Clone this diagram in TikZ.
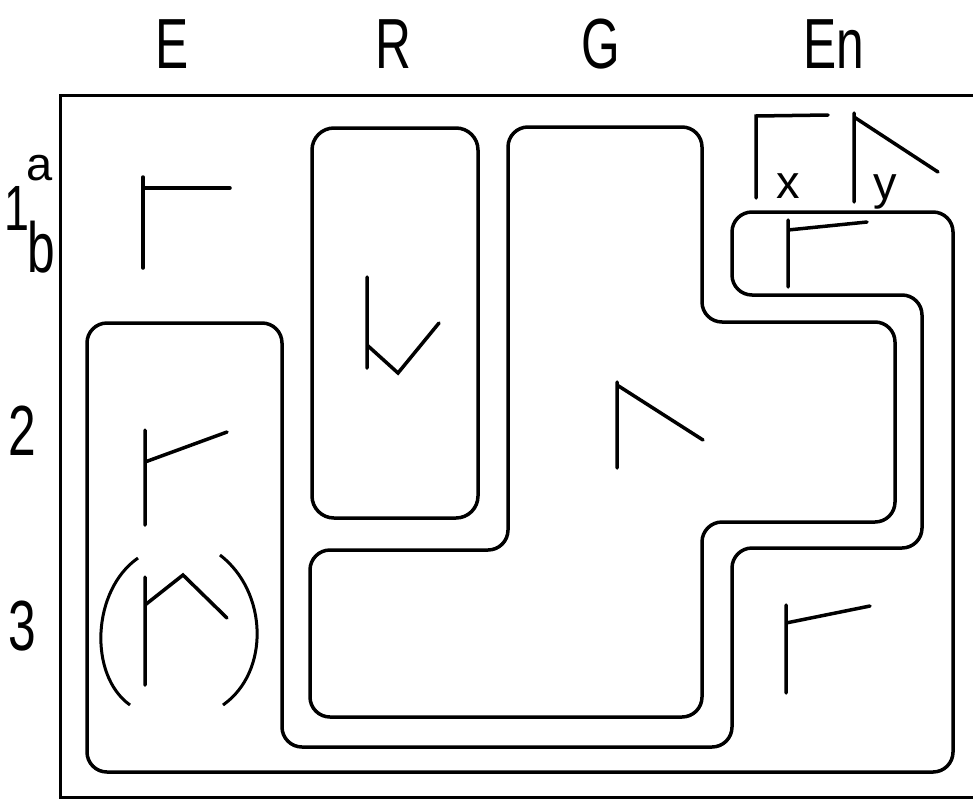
\documentclass[tikz,border=0pt]{standalone}
\usepackage{fontspec}
\setmainfont{Liberation Sans}
\newfontfamily\lettering[FakeStretch=0.7]{Liberation Sans}
\usepackage{tikz}

\begin{document}
\begin{tikzpicture}[x=1pt,y=-1pt,
  frame/.style={line width=3pt},
  zone/.style={line width=3.5pt, rounded corners=20pt},
  sign/.style={line width=3.5pt, line cap=round},
  head/.style={anchor=base, inner sep=0pt,
    font=\lettering\fontsize{71pt}{71pt}\selectfont},
  sub/.style={anchor=base, inner sep=0pt,
    font=\fontsize{47pt}{47pt}\selectfont}]

  \def\xmin{60}
  \def\xmax{980}
  \def\ymin{95}
  \def\ymax{797}

  \useasboundingbox (0,0) rectangle (973,798);

  % frame
  \draw[frame] (\xmax,\ymin) -- (\xmin,\ymin) -- (\xmin,\ymax) -- (\xmax,\ymax);

  % column heads
  \foreach \t/\x/\n in {E/172/E, R/393/R, G/601/G, En/834/En}
  \node[head] (col\n) at (\x,68) {\t};

  % row heads
  \node[head, font=\lettering\fontsize{64pt}{64pt}\selectfont] (row1) at (17,230) {1};
  \node[sub] (row1a) at (40,180) {a};
  \node[head] (row1b) at (41,272) {b};
  \node[head] (row2) at (22,455) {2};
  \node[head] (row3) at (22,650) {3};

  % outer zone
  \draw[zone] (87,323) -- (282,323) -- (282,747) -- (732,747) -- (732,548)
    -- (922,548) -- (922,295) -- (732,295) -- (732,212) -- (953,212)
    -- (953,772) -- (87,772) -- cycle;

  % G zone
  \draw[zone] (508,127) -- (702,127) -- (702,322) -- (895,322) -- (895,522)
    -- (702,522) -- (702,717) -- (310,717) -- (310,550) -- (508,550) -- cycle;

  % R zone
  \draw[zone, rounded corners=22pt] (312,128) rectangle (478,518);

  % E signs
  \draw[sign] (143,177) -- (143,268) (143,188) -- (230,188);
  \draw[sign] (145,430) -- (145,525) (145,462) -- (227,432);
  \draw[sign] (145,577) -- (145,685) (145,605) -- (183,575) -- (227,618);
  \draw[line width=3pt] (138,558) .. controls (92,590) and (88,675) .. (130,705);
  \draw[line width=3pt] (220,555) .. controls (268,592) and (270,672) .. (223,705);

  % R sign
  \draw[sign] (367,277) -- (367,368) (367,345) -- (398,373) -- (439,323);

  % G sign
  \draw[sign] (617,382) -- (617,468) (617,385) -- (703,440);

  % En signs
  \draw[sign] (756,198) -- (756,116) -- (828,115);
  \draw[sign] (854,202) -- (854,113) (854,117) -- (938,172);
  \node[sub] (idx) at (788,198) {x};
  \node[sub] (idy) at (885,199) {y};
  \draw[sign] (788,220) -- (788,287) (788,230) -- (867,222);
  \draw[sign] (786,605) -- (786,693) (786,623) -- (870,606);

\end{tikzpicture}
\end{document}
